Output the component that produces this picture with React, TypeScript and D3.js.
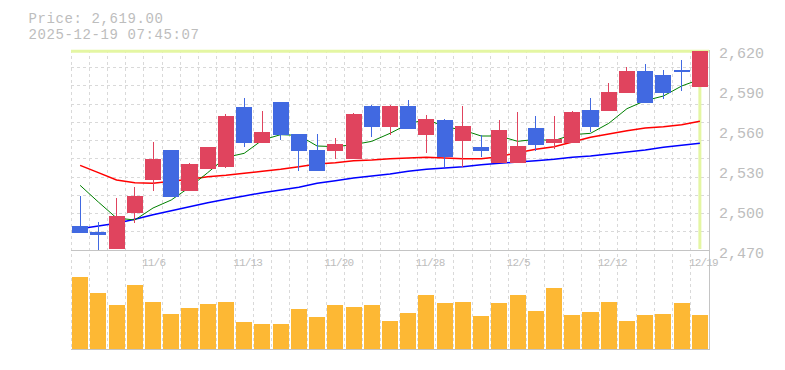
import React from 'react';
import * as d3 from 'd3';

// trading days shown (10/30 - 12/19)
const dates = [
  '10/30', '10/31', '11/4', '11/5', '11/6', '11/7', '11/10', '11/11', '11/12', '11/13',
  '11/14', '11/17', '11/18', '11/19', '11/20', '11/21', '11/25', '11/26', '11/27', '11/28',
  '12/1', '12/2', '12/3', '12/4', '12/5', '12/8', '12/9', '12/10', '12/11', '12/12',
  '12/15', '12/16', '12/17', '12/18', '12/19',
];
const opens = [
  2488, 2483.5, 2471, 2498, 2522.5, 2545, 2514.5, 2531, 2532, 2577,
  2550.5, 2581, 2557, 2545, 2544.5, 2538.5, 2578, 2562, 2578, 2556,
  2567.5, 2552, 2547, 2535, 2535, 2561.5, 2550, 2550.5, 2575, 2574.5,
  2588, 2604, 2601, 2605, 2592,
];
const highs = [
  2510.5, 2491, 2509, 2517.5, 2551, 2545, 2535.5, 2547.5, 2572, 2584,
  2574, 2581, 2557, 2557, 2554, 2572.5, 2578.5, 2578.5, 2582.5, 2571,
  2568, 2578, 2556, 2567.5, 2573.5, 2570.5, 2570.5, 2574, 2584, 2595,
  2607, 2609.5, 2605, 2612.5, 2619,
];
const lows = [
  2483, 2469, 2471, 2490, 2514, 2510, 2514.5, 2531, 2531.5, 2547.5,
  2550.5, 2552.5, 2529.5, 2529, 2538, 2538, 2555, 2556.5, 2561, 2543,
  2532, 2532, 2540, 2535, 2535, 2544.5, 2546, 2550.5, 2558.5, 2574.5,
  2588, 2580.5, 2583.5, 2589.5, 2592,
];
const closes = [
  2483, 2481.5, 2495.5, 2510.5, 2538, 2510, 2534.5, 2547, 2570.5, 2550.5,
  2558.5, 2556, 2544.5, 2529, 2549.5, 2572, 2562, 2578, 2561, 2568,
  2540, 2563, 2544.5, 2560, 2548, 2549, 2553, 2573.5, 2562.5, 2588.5,
  2604, 2580.5, 2588, 2604, 2619,
];
// volume, thousand shares
const volumes = [
  2150, 1670, 1310, 1910, 1400, 1040, 1220, 1340, 1400, 800,
  740, 740, 1190, 950, 1310, 1250, 1310, 830, 1070, 1610,
  1370, 1400, 980, 1370, 1610, 1130, 1820, 1010, 1100, 1400,
  830, 1010, 1040, 1370, 1010,
];
const ma5 = [
  2518.5, 2506, 2494, 2492.5, 2501.5, 2507.5, 2517, 2528, 2539.5, 2542.5,
  2552.5, 2556.5, 2556, 2548, 2547.5, 2549, 2551.5, 2557.5, 2564.5, 2568,
  2562.5, 2560, 2555.5, 2555.5, 2551.5, 2553, 2552, 2556.5, 2557.5, 2565,
  2576, 2582, 2585.5, 2593, 2598,
];
const ma25 = [
  2533.5, 2528, 2522.5, 2520.5, 2520, 2521.5, 2523, 2525, 2526, 2527.5,
  2529, 2530.5, 2532.5, 2534.5, 2535.5, 2537, 2537.5, 2538.5, 2539, 2539.5,
  2539, 2538.5, 2538.5, 2540, 2543, 2545.5, 2547.5, 2551, 2554.5, 2557,
  2559.5, 2561.5, 2562.5, 2564, 2566.5,
];
const ma75 = [
  2486, 2488, 2490, 2493, 2496.5, 2499.5, 2502.5, 2505.5, 2508, 2510.5,
  2513, 2515, 2517, 2520, 2522, 2524, 2525.5, 2527, 2529, 2530.5,
  2531.5, 2532.5, 2534, 2535, 2536, 2537, 2538, 2539.5, 2540.5, 2542,
  2543.5, 2545, 2547, 2548.5, 2550,
];
const priceTicks = [2470, 2500, 2530, 2560, 2590, 2620];
const dateTicks = ['11/6', '11/13', '11/20', '11/28', '12/5', '12/12', '12/19'];
const updatedAt = '2025-12-19 07:45:07';

const UP = '#e0445e';
const DOWN = '#4169e1';
const GRID = '#d9d9d9';
const FRAME = '#c4c4c4';
const TEXT = '#bdbdbd';
const NOW = '#e4f6a3';
const FONT = '"Liberation Mono", "DejaVu Sans Mono", monospace';

const App = () => {
  const x = d3.scaleBand<string>()
    .domain(dates)
    .range([71, 709])
    .paddingInner(0.12)
    .paddingOuter(0.06);
  const bw = x.bandwidth();
  const step = x.step();
  const cx = (d: string) => (x(d) ?? 0) + bw / 2;

  const y = d3.scaleLinear().domain([2470, 2620]).range([250, 50]);
  const yVol = d3.scaleLinear().domain([0, (d3.max(volumes) ?? 0) * 1.355]).range([349, 251]);

  const left = x.range()[0];
  const right = x.range()[1];
  const top = y.range()[1];
  const bottom = y.range()[0];

  // square grid, one cell per trading day
  const vGrid = dates.map(d => (x(d) ?? 0) - (step - bw) / 2).concat([right]);
  const hGrid = d3.range(1, Math.floor((bottom - top) / step) + 1).map(k => bottom - k * step);

  const maLine = d3.line<number>()
    .x((_, i) => cx(dates[i]))
    .y(v => y(v));

  const last = dates.length - 1;
  const lastPrice = closes[last];

  return (
    <svg width={785} height={370} style={{ position: 'absolute', left: 0, top: 0 }}
      fontFamily={FONT}>
      <rect width={785} height={370} fill="#fff" />

      {/* header: price and timestamp */}
      <text x={28.5} y={22.5} fontSize={14} letterSpacing={0.6} fill={TEXT}>
        {`Price: ${d3.format(',.2f')(lastPrice)}`}
      </text>
      <text x={28.5} y={38.5} fontSize={14} letterSpacing={0.6} fill={TEXT}>{updatedAt}</text>

      {/* grid */}
      <g stroke={GRID} strokeDasharray="3,3" shapeRendering="crispEdges">
        {vGrid.map((gx, i) => (
          <line key={'v' + i} x1={gx} x2={gx} y1={top} y2={349} />
        ))}
        {hGrid.map((gy, i) => (
          <line key={'h' + i} x1={left} x2={right} y1={gy} y2={gy} />
        ))}
      </g>

      {/* current price / date marker */}
      <line x1={left} x2={right} y1={y(lastPrice)} y2={y(lastPrice)} stroke={NOW} strokeWidth={3} />
      <line x1={cx(dates[last])} x2={cx(dates[last])} y1={y(lastPrice)} y2={bottom - 1}
        stroke={NOW} strokeWidth={3} />

      {/* moving averages */}
      <path d={maLine(ma75) ?? ''} fill="none" stroke="#0000ff" strokeWidth={1.5} />
      <path d={maLine(ma25) ?? ''} fill="none" stroke="#ff0000" strokeWidth={1.5} />
      <path d={maLine(ma5) ?? ''} fill="none" stroke="#008000" strokeWidth={1} />

      {/* candles */}
      <g shapeRendering="crispEdges">
        {dates.map((d, i) => {
          const up = closes[i] >= opens[i];
          const col = up ? UP : DOWN;
          const bt = y(Math.max(opens[i], closes[i]));
          const bb = y(Math.min(opens[i], closes[i]));
          return (
            <g key={d}>
              <rect x={cx(d) - 0.5} width={1} y={y(highs[i])}
                height={Math.max(0, Math.min(bottom, y(lows[i])) - y(highs[i]))} fill={col} />
              <rect x={x(d)} width={bw} y={bt} height={Math.max(1.5, bb - bt)} fill={col} />
            </g>
          );
        })}
      </g>

      {/* volume */}
      <g shapeRendering="crispEdges">
        {dates.map((d, i) => (
          <rect key={d} x={x(d)} width={bw} y={yVol(volumes[i])}
            height={yVol(0) - yVol(volumes[i])} fill="#fdb834" />
        ))}
      </g>

      {/* frame */}
      <g stroke={FRAME} shapeRendering="crispEdges">
        <line x1={left} x2={right + 1} y1={bottom + 0.5} y2={bottom + 0.5} />
        <line x1={left} x2={right + 1} y1={349.5} y2={349.5} />
        <line x1={right + 0.5} x2={right + 0.5} y1={top} y2={350} />
      </g>

      {/* axis labels */}
      {priceTicks.map(t => (
        <text key={t} x={719} y={y(t) + 8} fontSize={15} fill={TEXT}>
          {d3.format(',')(t)}
        </text>
      ))}
      {dateTicks.map(d => (
        <text key={d} x={cx(d) - 11} y={266} fontSize={11} letterSpacing={-0.8} fill={TEXT}>
          {d}
        </text>
      ))}
    </svg>
  );
};

export default App;
